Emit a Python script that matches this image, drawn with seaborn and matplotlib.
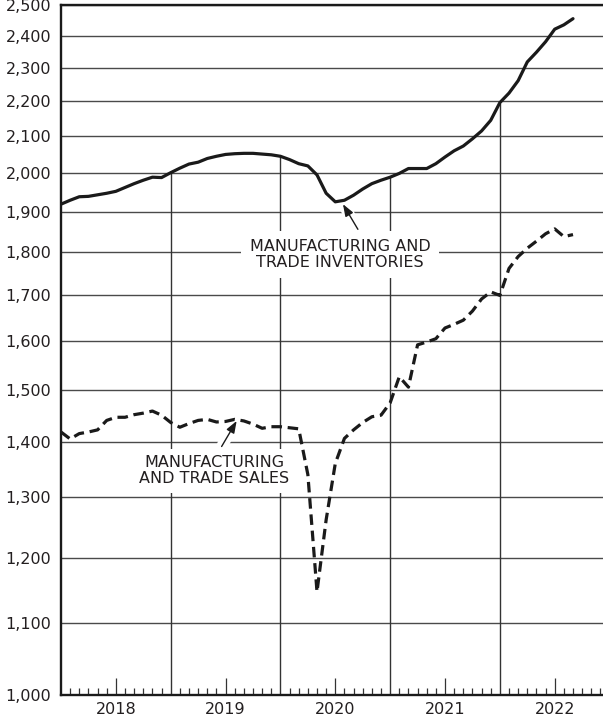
import numpy as np
import pandas as pd
import matplotlib
matplotlib.use('Agg')
import matplotlib.pyplot as plt
import seaborn as sns
from matplotlib.ticker import FixedLocator, NullLocator, FuncFormatter

# 月度数据 (十亿美元), 2017年12月 - 2022年8月, 画在月末
inventories = [1919, 1929, 1938, 1939, 1943, 1947, 1952, 1962, 1972, 1981,
               1989, 1988, 2001, 2013, 2024, 2029, 2039, 2045, 2050, 2052,
               2053, 2053, 2051, 2049, 2045, 2036, 2025, 2019, 1995, 1947,
               1925, 1929, 1942, 1958, 1972, 1981, 1989, 1999, 2012, 2012,
               2012, 2025, 2043, 2060, 2073, 2093, 2115, 2145, 2196, 2224,
               2261, 2318, 2348, 2381, 2421, 2435, 2455]
sales = [1418, 1405, 1415, 1418, 1422, 1440, 1446, 1446, 1451, 1454,
         1458, 1450, 1436, 1427, 1434, 1440, 1442, 1437, 1438, 1442,
         1439, 1433, 1425, 1428, 1428, 1426, 1424, 1340, 1147, 1262,
         1360, 1406, 1422, 1436, 1447, 1450, 1474, 1526, 1505, 1592,
         1598, 1605, 1628, 1636, 1645, 1665, 1692, 1708, 1700, 1762,
         1790, 1810, 1827, 1845, 1857, 1838, 1843]
years = [2018, 2019, 2020, 2021, 2022]
y_ticks = list(range(1000, 2501, 100))

x = 2018 + np.arange(len(inventories)) / 12
df = pd.DataFrame({'x': x, 'inventories': inventories, 'sales': sales})

sns.set_theme(style='white')
plt.rcParams['font.family'] = ['DejaVu Sans']
txt_color = '#231f20'
line_color = '#1a1a1a'

fig = plt.figure(figsize=(6.03, 7.21), dpi=100)
ax = fig.add_axes([61 / 603, 26 / 721, 542 / 603, 690 / 721])

# 两条曲线
sns.lineplot(data=df, x='x', y='inventories', ax=ax, color=line_color,
             lw=2.3, zorder=5)
sns.lineplot(data=df, x='x', y='sales', ax=ax, color=line_color,
             lw=2.3, linestyle=(0, (3.3, 1.8)), zorder=5)

ax.set_yscale('log')
ax.set_ylim(1000, 2500)
ax.set_xlim(2018, 2022.94)

# 横向网格
ax.yaxis.set_major_locator(FixedLocator(y_ticks))
ax.yaxis.set_minor_locator(NullLocator())
ax.yaxis.set_major_formatter(FuncFormatter(lambda v, p: f'{int(round(v)):,}'))
ax.grid(axis='y', color='#4a4a4a', lw=1.0, zorder=1)
ax.set_axisbelow(True)

# 年份分隔线: 从底部画到库存曲线
for yr in years[1:]:
    top = np.interp(yr, x, inventories)
    ax.vlines(yr, 1000, top, color='#333333', lw=1.0, zorder=1)

# x轴刻度: 年中长刻度带标签, 月份短刻度
ax.xaxis.set_major_locator(FixedLocator([y + 0.5 for y in years]))
ax.set_xticklabels([str(y) for y in years])
months = [y + m / 12 for y in years for m in range(1, 12) if m != 6]
ax.xaxis.set_minor_locator(FixedLocator(months))
ax.tick_params(axis='x', which='major', direction='in', length=12, width=0.9,
               color='#333333', pad=5, labelsize=11.5, labelcolor=txt_color,
               bottom=True)
ax.tick_params(axis='x', which='minor', direction='in', length=5, width=0.9,
               color='#333333', bottom=True)
ax.tick_params(axis='y', length=0, pad=7, labelsize=11.5, labelcolor=txt_color)
ax.set_xlabel('')
ax.set_ylabel('')

for side in ['left', 'top', 'bottom']:
    ax.spines[side].set_visible(True)
    ax.spines[side].set_color(line_color)
    ax.spines[side].set_linewidth(1.7)
ax.spines['right'].set_visible(False)


def pointer(head, tail):
    # 白色底衬把网格线断开, 再画箭头
    ax.plot([tail[0], head[0]], [tail[1], head[1]], color='white', lw=8,
            solid_capstyle='butt', zorder=2)
    ax.annotate('', xy=head, xytext=tail,
                arrowprops=dict(arrowstyle='-|>,head_length=0.6,head_width=0.22',
                                color=line_color, lw=1.0,
                                shrinkA=0, shrinkB=0),
                zorder=3)


# 标注
pointer((2020.57, 1919), (2020.706, 1856))
ax.text(2020.542, 1795, 'MANUFACTURING AND\nTRADE INVENTORIES',
        ha='center', va='center', fontsize=11.5, color=txt_color,
        linespacing=1.05, zorder=3,
        bbox=dict(facecolor='white', edgecolor='none', pad=6))

pointer((2019.601, 1439), (2019.464, 1391))
ax.text(2019.394, 1347, 'MANUFACTURING\nAND TRADE SALES',
        ha='center', va='center', fontsize=11.5, color=txt_color,
        linespacing=1.05, zorder=3,
        bbox=dict(facecolor='white', edgecolor='none', pad=5))

fig.savefig('out.png', dpi=100, facecolor='white')
